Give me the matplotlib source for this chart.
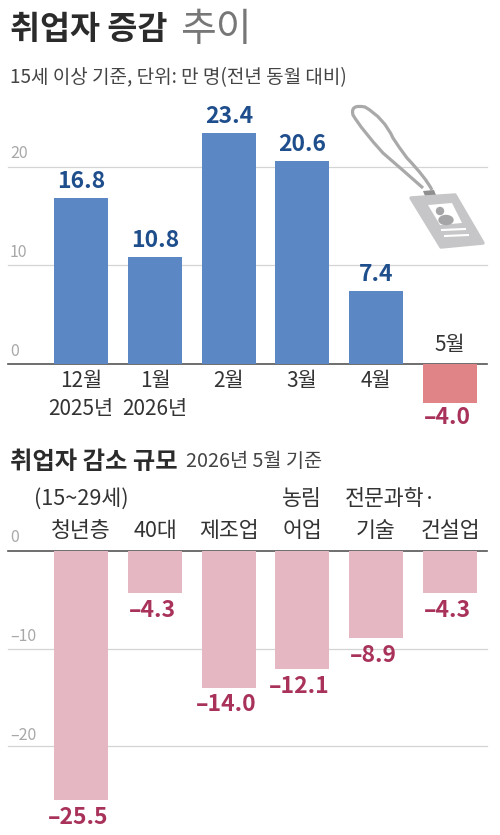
import matplotlib
matplotlib.use("Agg")
import matplotlib.pyplot as plt
from matplotlib.patches import PathPatch, Circle, Polygon, Ellipse
from matplotlib.path import Path

plt.rcParams['font.family'] = ['Noto Sans CJK KR', 'DejaVu Sans']

top_labels = [["12월", "2025년"], ["1월", "2026년"], ["2월"], ["3월"], ["4월"], ["5월"]]
top_values = [16.8, 10.8, 23.4, 20.6, 7.4, -4.0]
top_ticks = [0, 10, 20]

bottom_labels = [["청년층", "(15~29세)"], ["40대"], ["제조업"], ["어업", "농림"], ["기술", "전문과학·"], ["건설업"]]
bottom_values = [-25.5, -4.3, -14.0, -12.1, -8.9, -4.3]
bottom_ticks = [0, -10, -20]

W, H = 500, 835
fig = plt.figure(figsize=(W / 100, H / 100), dpi=100)
BLUE = "#5b87c5"
RED = "#e08488"
PINK = "#e5b7c3"
DBLUE = "#1f4e8c"
DRED = "#a8325a"
GRID = "#d4d4d4"
TXT = "#333333"
TICK = "#a8a8a8"

def make_ax(top, bottom):
    ax = fig.add_axes([0, 1 - bottom / H, 1, (bottom - top) / H])
    ax.set_xlim(0, W)
    ax.axis("off")
    return ax

def put(x, y, s, **kw):
    fig.text(x / W, 1 - y / H, s, va="center", **kw)

def neg(v):
    return f"\u2013{abs(v):.1f}"

x_pos = [81, 155, 229, 302, 376, 450]

# top chart, 0 at y=364, 9.87 px per unit
ax1 = make_ax(90, 440)
ax1.set_ylim((364 - 440) / 9.87, (364 - 90) / 9.87)
for t in top_ticks:
    ax1.plot([8, 487], [t, t], color="#555555" if t == 0 else GRID, lw=1.2 if t == 0 else 0.9, zorder=1)
    put(10, 351 - t * 9.85, str(t), fontsize=11.5, color=TICK, ha="left")
for x, v, lab in zip(x_pos, top_values, top_labels):
    ax1.bar(x, v, width=54, color=BLUE if v > 0 else RED, zorder=2)
    if v > 0:
        ax1.text(x, v + 0.5, f"{v:.1f}", fontsize=16.5, fontweight="bold", color=DBLUE, ha="center", va="bottom")
        for line, py in zip(lab, [381, 409]):
            put(x, py, line, fontsize=15, color=TXT, ha="center")
    else:
        ax1.text(x - 3, v - 0.3, neg(v), fontsize=16.5, fontweight="bold", color=DRED, ha="center", va="top")
        put(x, 345, lab[0], fontsize=15, color=TXT, ha="center")

# bottom chart, 0 at y=551, 9.76 px per unit
ax2 = make_ax(480, 835)
ax2.set_ylim((551 - 835) / 9.76, (551 - 480) / 9.76)
for t in bottom_ticks:
    ax2.plot([8, 487], [t, t], color="#555555" if t == 0 else GRID, lw=1.2 if t == 0 else 0.9, zorder=1)
    put(10, 538 - t * 9.85, str(t).replace("-", "\u2013"), fontsize=11.5, color=TICK, ha="left")
shift = {"전문과학·": 15}
for x, v, lab in zip(x_pos, bottom_values, bottom_labels):
    ax2.bar(x, v, width=54, color=PINK, zorder=2)
    ax2.text(x - 3, v - 0.6, neg(v), fontsize=16.5, fontweight="bold", color=DRED, ha="center", va="top")
    for line, py in zip(lab, [531, 499]):
        put(x + shift.get(line, 0), py, line, fontsize=15.6, color=TXT, ha="center")

# titles
put(10, 30, "취업자 증감", fontsize=23.5, fontweight="bold", color="#2b2b2b")
put(180, 30, "추이", fontsize=28, fontweight="light", color="#777777")
put(10, 78, "15세 이상 기준, 단위: 만 명(전년 동월 대비)", fontsize=13.7, color="#444444")
put(10, 462, "취업자 감소 규모", fontsize=17.5, fontweight="bold", color="#2b2b2b")
put(186, 462, "2026년 5월 기준", fontsize=14.2, color="#444444")

# id card icon, pixel space
ov = fig.add_axes([0, 0, 1, 1])
ov.set_xlim(0, W)
ov.set_ylim(H, 0)
ov.axis("off")
ov.patch.set_alpha(0)
strap = Path([(432, 190), (426, 178), (407, 158), (398, 146), (393, 138), (384, 118), (365, 107),
              (350, 104), (353, 115), (362, 130), (383, 153), (405, 172), (423, 188)],
             [Path.MOVETO] + [Path.CURVE3] * 12)
ov.add_patch(PathPatch(strap, fc="none", ec="#a9a9a9", lw=2.3))
ov.add_patch(Polygon([(423, 191), (434, 190), (436, 195), (425, 196)], fc="#8f8f8f", ec="none"))
ov.add_patch(Polygon([(411, 198), (455, 195), (483, 243), (441, 247)], closed=True, fc="#c6c6c8", ec="#c6c6c8", lw=2.5, joinstyle="round"))
ov.add_patch(Polygon([(428, 205), (452, 203), (462, 223), (440, 225)], closed=True, fc="white", ec="none"))
ov.add_patch(Circle((440, 211), 3.5, color="#a5a5a7"))
ov.add_patch(Ellipse((446, 220), 14, 9, color="#a5a5a7"))
ov.plot([442, 465], [230, 229], color="white", lw=1.5)
ov.plot([445, 468], [236, 235], color="white", lw=1.5)

fig.savefig("out.png", dpi=100, facecolor="white")
